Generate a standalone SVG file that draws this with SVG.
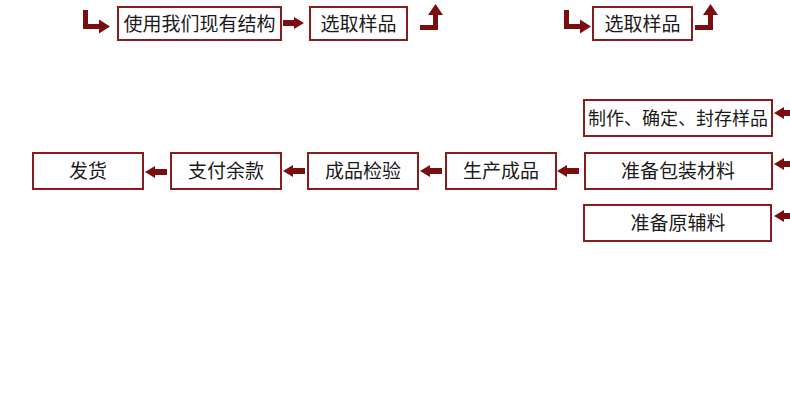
<svg xmlns="http://www.w3.org/2000/svg" xmlns:xlink="http://www.w3.org/1999/xlink" width="790" height="399" viewBox="0 0 790 399">
<style>
.box{fill:#ffffff;stroke:#8b1c1c;stroke-width:2}
.lbl{font-family:"Noto Sans CJK SC","Noto Sans",sans-serif;font-size:19px;fill:#1a1a1a;text-anchor:middle}
.small{font-size:18px}
.arr{fill:#7a0d10}
</style>
<defs>
<path id="arrowL" d="M0,0 L10,-6 L10,-3 L22,-3 L22,3 L10,3 L10,6 Z"/>
<path id="arrowR" d="M0,0 L-10,-6 L-10,-3 L-21,-3 L-21,3 L-10,3 L-10,6 Z"/>
<path id="bentR" d="M0,0 L5,0 L5,14 L16,14 L16,9.5 L27,16.5 L16,23.5 L16,19 L0,19 Z"/>
<path id="bentU" d="M0,21 L13,21 L13,11 L8,11 L15.5,0 L23,11 L18,11 L18,26 L0,26 Z"/>
</defs>
<rect width="790" height="399" fill="#ffffff"/>
<g id="connectors" class="arr">
<use xlink:href="#bentR" x="83" y="10"/>
<use xlink:href="#arrowR" x="304" y="23"/>
<use xlink:href="#bentU" x="420" y="4"/>
<use xlink:href="#bentR" x="564" y="10"/>
<use xlink:href="#bentU" x="695" y="4"/>
<use xlink:href="#arrowL" x="774" y="113"/>
<use xlink:href="#arrowL" x="774" y="164"/>
<use xlink:href="#arrowL" x="774" y="216"/>
<use xlink:href="#arrowL" x="557" y="171"/>
<use xlink:href="#arrowL" x="420" y="171"/>
<use xlink:href="#arrowL" x="283" y="171"/>
<use xlink:href="#arrowL" x="145" y="172"/>
</g>
<g id="n-use-structure"><rect class="box" x="118" y="7" width="163" height="33"/><text class="lbl" x="199.5" y="30.5">使用我们现有结构</text></g>
<g id="n-select-1"><rect class="box" x="310" y="7" width="97" height="33"/><text class="lbl" x="358.5" y="30.5">选取样品</text></g>
<g id="n-select-2"><rect class="box" x="593" y="7" width="99" height="33"/><text class="lbl" x="642.5" y="30.5">选取样品</text></g>
<g id="n-make-sample"><rect class="box" x="584" y="100" width="188" height="36"/><text class="lbl small" x="678" y="124.8">制作、确定、封存样品</text></g>
<g id="n-packaging"><rect class="box" x="585" y="153" width="187" height="36"/><text class="lbl" x="678" y="178">准备包装材料</text></g>
<g id="n-materials"><rect class="box" x="584" y="205" width="187" height="36"/><text class="lbl" x="678" y="230">准备原辅料</text></g>
<g id="n-produce"><rect class="box" x="446" y="153" width="110" height="36"/><text class="lbl" x="501" y="178">生产成品</text></g>
<g id="n-inspect"><rect class="box" x="308" y="153" width="110" height="36"/><text class="lbl" x="363" y="178">成品检验</text></g>
<g id="n-pay"><rect class="box" x="171" y="153" width="110" height="36"/><text class="lbl" x="226" y="178">支付余款</text></g>
<g id="n-ship"><rect class="box" x="33" y="153" width="110" height="36"/><text class="lbl" x="88" y="178">发货</text></g>
</svg>
